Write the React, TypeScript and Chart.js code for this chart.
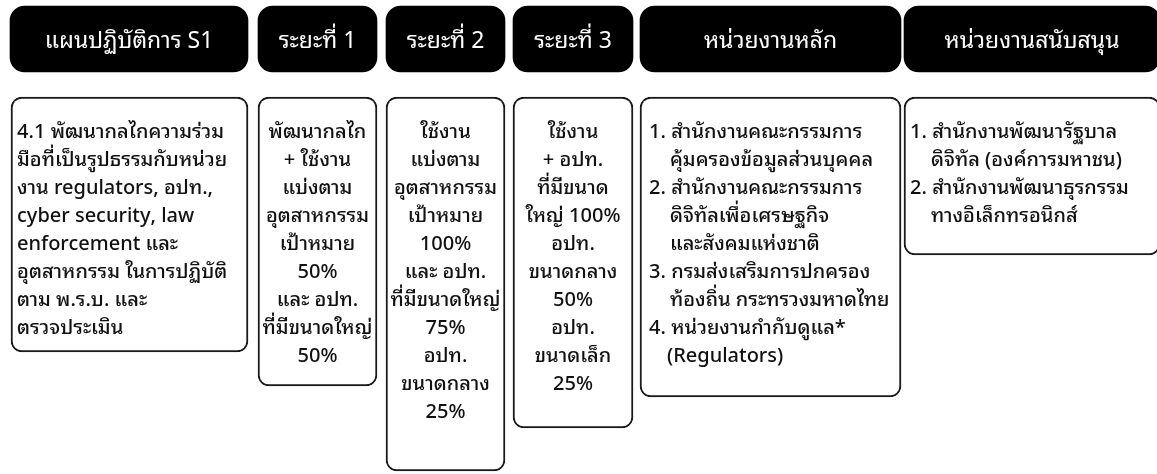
import { useEffect, useRef } from 'react';
import { Chart, registerables } from 'chart.js';

Chart.register(...registerables);

// ---------- content ----------
const headers = [
  'แผนปฏิบัติการ S1',
  'ระยะที่ 1',
  'ระยะที่ 2',
  'ระยะที่ 3',
  'หน่วยงานหลัก',
  'หน่วยงานสนับสนุน',
];

const actionPlanLines = [
  '4.1 พัฒนากลไกความร่วม',
  'มือที่เป็นรูปธรรมกับหน่วย',
  'งาน regulators, อปท.,',
  'cyber security, law',
  'enforcement และ',
  'อุตสาหกรรม ในการปฏิบัติ',
  'ตาม พ.ร.บ. และ',
  'ตรวจประเมิน',
];

const phase1Lines = [
  'พัฒนากลไก',
  '+ ใช้งาน',
  'แบ่งตาม',
  'อุตสาหกรรม',
  'เป้าหมาย',
  '50%',
  'และ อปท.',
  'ที่มีขนาดใหญ่',
  '50%',
];

const phase2Lines = [
  'ใช้งาน',
  'แบ่งตาม',
  'อุตสาหกรรม',
  'เป้าหมาย',
  '100%',
  'และ อปท.',
  'ที่มีขนาดใหญ่',
  '75%',
  'อปท.',
  'ขนาดกลาง',
  '25%',
];

const phase3Lines = [
  'ใช้งาน',
  '+ อปท.',
  'ที่มีขนาด',
  'ใหญ่ 100%',
  'อปท.',
  'ขนาดกลาง',
  '50%',
  'อปท.',
  'ขนาดเล็ก',
  '25%',
];

const leadAgencyItems = [
  ['1. สำนักงานคณะกรรมการ', 'คุ้มครองข้อมูลส่วนบุคคล'],
  ['2. สำนักงานคณะกรรมการ', 'ดิจิทัลเพื่อเศรษฐกิจ', 'และสังคมแห่งชาติ'],
  ['3. กรมส่งเสริมการปกครอง', 'ท้องถิ่น กระทรวงมหาดไทย'],
  ['4. หน่วยงานกำกับดูแล*', '(Regulators)'],
];

const supportAgencyItems = [
  ['1. สำนักงานพัฒนารัฐบาล', 'ดิจิทัล (องค์การมหาชน)'],
  ['2. สำนักงานพัฒนาธุรกรรม', 'ทางอิเล็กทรอนิกส์'],
];

type Body =
  | { kind: 'left'; lines: string[] }
  | { kind: 'center'; lines: string[] }
  | { kind: 'list'; items: string[][] };

const bodies: Body[] = [
  { kind: 'left', lines: actionPlanLines },
  { kind: 'center', lines: phase1Lines },
  { kind: 'center', lines: phase2Lines },
  { kind: 'center', lines: phase3Lines },
  { kind: 'list', items: leadAgencyItems },
  { kind: 'list', items: supportAgencyItems },
];

// ---------- layout (separate from content) ----------
const W = 1157;
const H = 474;
const colLeft = [10, 258, 386, 513, 640, 904];
const colRight = [248, 377, 505, 633, 901, 1160];
const headerTop = 6;
const headerBottom = 72;
const bodyTop = 97;
const bodyBottom = [352, 386, 471, 428, 397, 255];
const firstLineOffset = 35;
const lineHeight = 28;
const FONT = '"Noto Sans Thai Looped", "Noto Serif Thai", "Noto Sans Thai", Tahoma, "Noto Sans", sans-serif';

const tablePlugin = {
  id: 'tableText',
  afterDatasetsDraw(chart: any) {
    const ctx: CanvasRenderingContext2D = chart.ctx;
    const n = headers.length;
    ctx.save();
    ctx.textBaseline = 'middle';
    for (let i = 0; i < n; i++) {
      const h = chart.getDatasetMeta(i).data[0] as any;
      const hy = (h.y + h.base) / 2;
      ctx.fillStyle = '#ffffff';
      ctx.font = `23px ${FONT}`;
      ctx.textAlign = 'center';
      ctx.fillText(headers[i], h.x, hy + 3);

      const b = chart.getDatasetMeta(n + i).data[0] as any;
      const top = Math.min(b.y, b.base);
      const left = b.x - b.width / 2;
      const body = bodies[i];
      ctx.fillStyle = '#111111';
      ctx.font = `500 20px ${FONT}`;
      let y = top + firstLineOffset;
      if (body.kind === 'center') {
        ctx.textAlign = 'center';
        body.lines.forEach((t) => {
          ctx.fillText(t, b.x, y);
          y += lineHeight;
        });
      } else if (body.kind === 'left') {
        ctx.textAlign = 'left';
        body.lines.forEach((t) => {
          ctx.fillText(t, left + 6, y);
          y += lineHeight;
        });
      } else {
        ctx.textAlign = 'left';
        const indent = ctx.measureText('1.').width + 4;
        body.items.forEach((item) => {
          item.forEach((t, k) => {
            const ind = k === 0 ? 0 : t.startsWith('(') ? indent - 3 : indent;
            ctx.fillText(t, left + (i === 5 ? 6 : 9) + ind, y);
            y += lineHeight;
          });
        });
      }
    }
    ctx.restore();
  },
};

export default function App() {
  const ref = useRef<HTMLCanvasElement | null>(null);

  useEffect(() => {
    document.body.style.margin = '0';
    const canvas = ref.current;
    if (!canvas) return;

    const headerSets = headers.map((label, i) => ({
      label,
      data: [{ x: (colLeft[i] + colRight[i]) / 2, y: [headerTop, headerBottom] }],
      barThickness: colRight[i] - colLeft[i],
      backgroundColor: '#000000',
      borderWidth: 0,
      borderRadius: 15,
      borderSkipped: false,
      grouped: false,
    }));
    const bodySets = headers.map((label, i) => ({
      label: label + ' body',
      data: [{ x: (colLeft[i] + colRight[i]) / 2 + (i === 0 ? 0.5 : 0), y: [bodyTop, bodyBottom[i]] }],
      barThickness: colRight[i] - colLeft[i] - (i === 0 ? 1 : 0),
      backgroundColor: '#ffffff',
      borderColor: '#1a1a1a',
      borderWidth: 2,
      borderRadius: 11,
      borderSkipped: false,
      grouped: false,
    }));

    const chart = new Chart(canvas, {
      type: 'bar',
      data: { datasets: [...headerSets, ...bodySets] as any },
      options: {
        animation: false,
        responsive: false,
        events: [],
        layout: { padding: 0 },
        plugins: { legend: { display: false }, tooltip: { enabled: false } },
        scales: {
          x: { type: 'linear', min: 0, max: W, display: false, offset: false },
          y: { type: 'linear', min: 0, max: H, reverse: true, display: false },
        },
      },
      plugins: [tablePlugin],
    });
    return () => chart.destroy();
  }, []);

  return (
    <div style={{ position: 'absolute', left: 0, top: 0, width: W, height: H, background: '#fff' }}>
      <canvas ref={ref} width={W} height={H} style={{ width: W, height: H, display: 'block' }} />
    </div>
  );
}
